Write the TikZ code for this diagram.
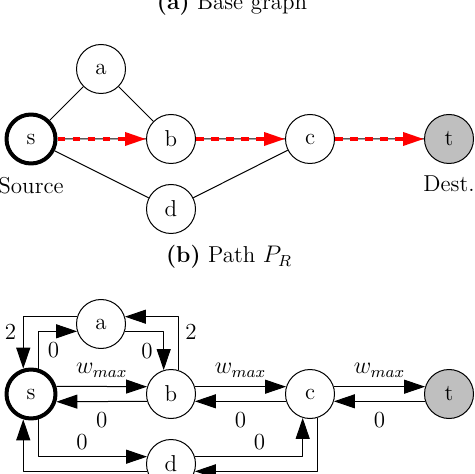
\documentclass[tikz,border=0pt]{standalone}
\usetikzlibrary{arrows.meta,positioning}
\begin{document}
\begin{tikzpicture}[x=0.5pt, y=-0.5pt, font=\fontsize{11.5}{13.5}\selectfont, line width=0.5pt, line join=round, >={Triangle[length=10.5pt,width=7pt]},
	vertex/.style={circle, draw, fill=white, minimum size=24.5pt, inner sep=0pt},
	source/.style={vertex, line width=2pt},
	dest/.style={vertex, fill=gray!50},
	route/.style={red, line width=1.75pt, dash pattern=on 3.75pt off 3.75pt, -{Triangle[length=10.5pt,width=6.5pt]}}]
	\useasboundingbox (0,0) rectangle (474,474);

	% (a) base graph
	\node[anchor=base] (capa) at (232,10) {\textbf{(a)} Base graph};
	\node[source] (s1) at (31,139) {s};
	\foreach \n/\x/\y in {a/101/69, b/171/139, c/310/139, d/171/209}
	\node[vertex] (\n1) at (\x,\y) {\n};
	\node[dest] (t1) at (449,139) {t};
	\node[below=2.5pt of s1] (src) {Source};
	\node[below=2.5pt of t1] (dst) {Dest.};

	\draw (s1)--(a1)--(b1) (s1)--(d1)--(c1) (s1)--(b1)--(c1)--(t1);
	\foreach \u/\v in {s1/b1, b1/c1, c1/t1}
	\draw[route] (\u)--(\v);

	% (b) path P_R
	\node[anchor=base] (capb) at (229,263) {\textbf{(b)} Path $P_R$};
	\node[source] (s2) at (31,394) {s};
	\foreach \n/\x/\y in {a/101/324, b/171/394, c/310/394, d/171/464}
	\node[vertex] (\n2) at (\x,\y) {\n};
	\node[dest] (t2) at (449,394) {t};

	\foreach \u/\v/\i in {s2/b2/1, b2/c2/2, c2/t2/3} {
		\draw[->] (\u.17) -- node[above=1pt] (w\i) {$w_{max}$} (\v.163);
		\draw[->] (\v.197) -- node[below=2pt] (z\i) {0} (\u.343);
	}
	\draw[->] (a2.163) -| node[below left] (l1) {2} (s2.107);
	\draw[->] (s2.73) |- node[pos=0.25, right=1pt] (l2) {0} (a2.197);
	\draw[->] (a2.343) -| node[pos=0.75, left=2pt] (l3) {0} (b2.107);
	\draw[->] (b2.73) |- node[below right] (l4) {2} (a2.17);
	\draw[->] (s2.287) |- node[pos=0.7, above] (l5) {0} (d2.163);
	\draw[->] (d2.197) -| (s2.253);
	\draw[->] (d2.17) -| node[pos=0.3, above] (l6) {0} (c2.253);
	\draw[->] (c2.287) |- (d2.343);
\end{tikzpicture}
\end{document}
